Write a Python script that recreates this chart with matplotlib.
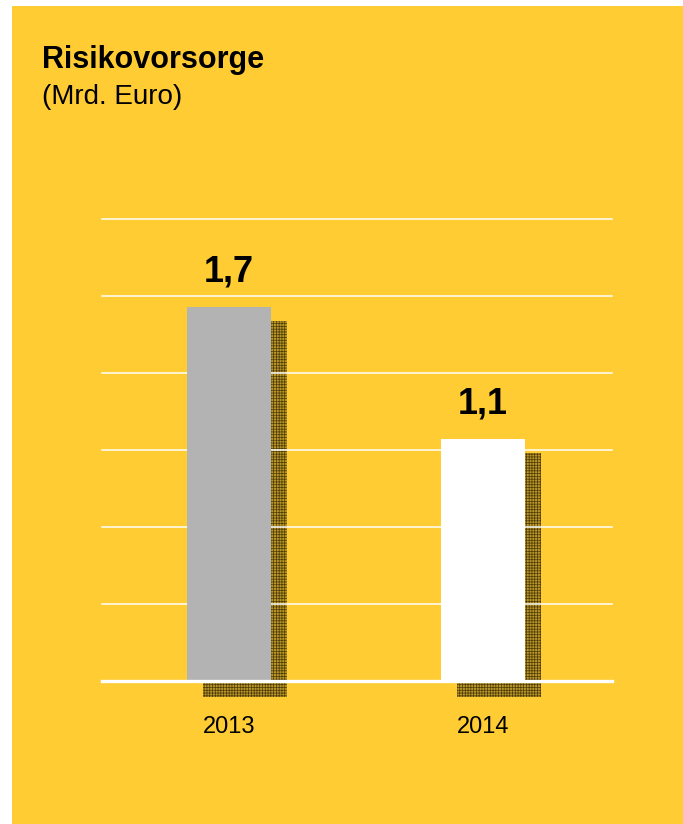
import matplotlib.pyplot as plt
from matplotlib.patches import Rectangle

plt.rcParams['font.family'] = ['Liberation Sans', 'DejaVu Sans']
plt.rcParams['hatch.linewidth'] = 0.5

# Daten
jahre = ["2013", "2014"]
werte = [1.7, 1.1]
wert_labels = ["1,7", "1,1"]
bar_farben = ["#b3b3b3", "#ffffff"]

gelb = "#ffcc33"

fig = plt.figure(figsize=(6.83, 8.24), dpi=100)
fig.patch.set_facecolor("white")

# gelber Hintergrund
fig.patches.append(Rectangle((12 / 683, 0), 1 - 12 / 683, 1 - 6 / 824,
                             transform=fig.transFigure, facecolor=gelb,
                             edgecolor="none", zorder=-5))

ax = fig.add_axes([102 / 683, 143 / 824, 510 / 683, 462 / 824])
ax.set_zorder(1)
ax.set_facecolor("none")
ax.set_xlim(-0.5, 1.508)
ax.set_ylim(0, 2.1)

x = list(range(len(werte)))
breite = 0.33
dx, dy = 0.063, -0.072

# Schatten (gerastert)
for xi, v in zip(x, werte):
    ax.add_patch(Rectangle((xi - breite / 2 + dx, dy), breite, v + 0.008,
                           facecolor="#b89628", edgecolor="#4e3b08",
                           hatch="++++++", linewidth=0, zorder=1,
                           clip_on=False))

# Gitterlinien
for g in [0.35, 0.7, 1.05, 1.4, 1.75, 2.1]:
    ax.axhline(g, color="white", lw=1.1, zorder=2, clip_on=False)

ax.bar(x, werte, width=breite, color=bar_farben, zorder=3)
ax.axhline(0, color="white", lw=2.4, zorder=4, clip_on=False)

for xi, v, lab in zip(x, werte, wert_labels):
    ax.annotate(lab, (xi, v), xytext=(0, 18.5), textcoords="offset points",
                ha="center", va="baseline", fontsize=26, fontweight="bold")

ax.set_xticks(x)
ax.set_xticklabels(jahre, fontsize=17)
ax.tick_params(axis="x", length=0, pad=25)
ax.set_yticks([])
for s in ax.spines.values():
    s.set_visible(False)

fig.text(42 / 683, 1 - 68 / 824, "Risikovorsorge", fontsize=22,
         fontweight="bold", va="baseline")
fig.text(42 / 683, 1 - 104 / 824, "(Mrd. Euro)", fontsize=20, va="baseline")

fig.savefig("out.png", dpi=100)
